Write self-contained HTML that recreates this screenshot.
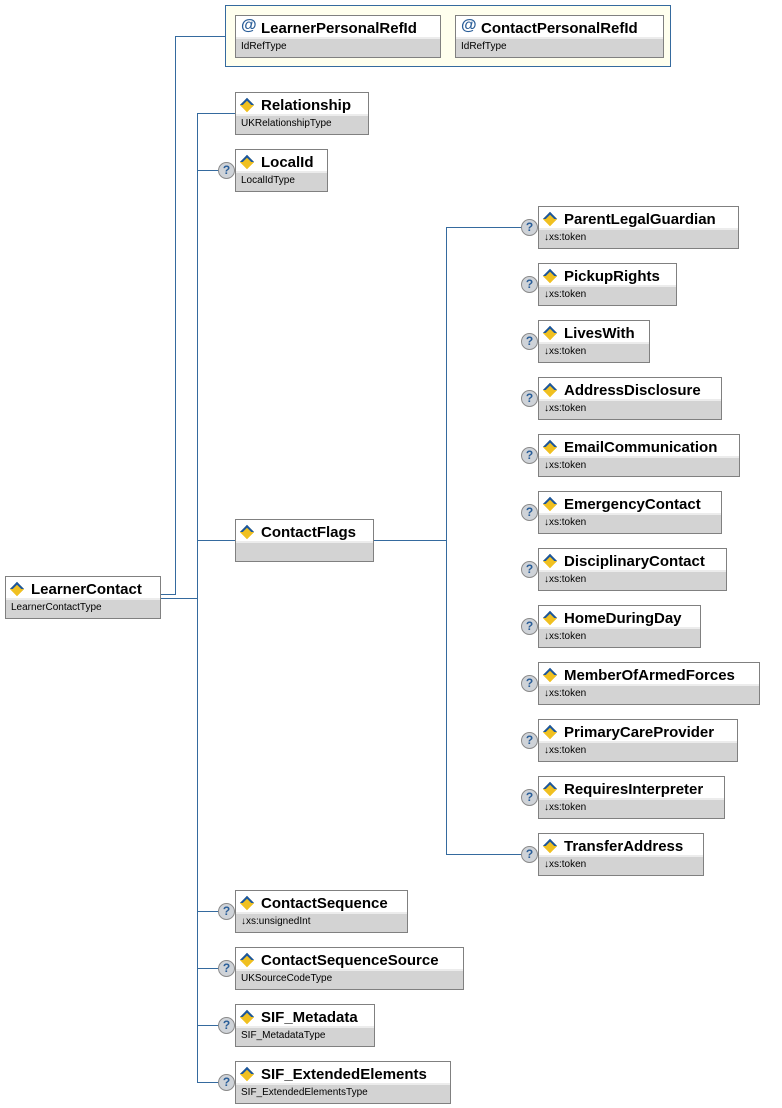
<!DOCTYPE html>
<html><head><meta charset="utf-8"><style>
body{margin:0;width:782px;height:1108px;background:#fff;position:relative;overflow:hidden;font-family:"Liberation Sans",sans-serif}
.b{position:absolute;border:1px solid #808080;background:#d3d3d3;box-sizing:border-box;height:43px}
.b .t{height:23px;background:#fff;border-bottom:2px solid #ececec;box-sizing:border-box;font-weight:bold;font-size:15px;line-height:20px;padding-top:3px;padding-left:25px;white-space:nowrap;position:relative;color:#000;overflow:hidden}
.b .s{font-size:10px;line-height:16px;padding-left:5px;white-space:nowrap;color:#000}
.ic{position:absolute;left:6px;top:7px;width:10px;height:10px;transform:rotate(45deg);background:#f0c020;border:2px solid #1a56a0;border-right-color:#f0c020;border-bottom-color:#f0c020;box-sizing:border-box}
.at{position:absolute;left:5px;top:0px;color:#2a5e98;font-size:16px;font-weight:bold}
.l{position:absolute;background:#356a9e}
.q{position:absolute;width:15px;height:15px;border-radius:50%;background:#cfd3d8;border:1px solid #8a8a8a;color:#2a5e98;font-size:12px;font-weight:bold;text-align:center;line-height:15px}
</style></head><body>
<div style="position:absolute;left:225px;top:5px;width:446px;height:62px;border:1px solid #356a9e;background:#ffffee;box-sizing:border-box"></div>
<div class="b" style="left:235px;top:15px;width:206px"><div class="t"><span class="at">@</span>LearnerPersonalRefId</div><div class="s">IdRefType</div></div>
<div class="b" style="left:455px;top:15px;width:209px"><div class="t"><span class="at">@</span>ContactPersonalRefId</div><div class="s">IdRefType</div></div>

<div class="l" style="left:160px;top:594px;width:16px;height:1px"></div>
<div class="l" style="left:175px;top:36px;width:1px;height:559px"></div>
<div class="l" style="left:175px;top:36px;width:50px;height:1px"></div>
<div class="l" style="left:160px;top:598px;width:37px;height:1px"></div>
<div class="l" style="left:197px;top:113px;width:1px;height:970px"></div>
<div class="l" style="left:197px;top:113px;width:38px;height:1px"></div>
<div class="l" style="left:197px;top:170px;width:22px;height:1px"></div>
<div class="l" style="left:197px;top:540px;width:38px;height:1px"></div>
<div class="l" style="left:197px;top:911px;width:22px;height:1px"></div>
<div class="l" style="left:197px;top:968px;width:22px;height:1px"></div>
<div class="l" style="left:197px;top:1025px;width:22px;height:1px"></div>
<div class="l" style="left:197px;top:1082px;width:22px;height:1px"></div>
<div class="l" style="left:373px;top:540px;width:73px;height:1px"></div>
<div class="l" style="left:446px;top:227px;width:1px;height:628px"></div>
<div class="l" style="left:446px;top:227px;width:76px;height:1px"></div>
<div class="l" style="left:446px;top:854px;width:76px;height:1px"></div>

<div class="b" style="left:5px;top:576px;width:156px"><div class="t"><span class="ic"></span>LearnerContact</div><div class="s">LearnerContactType</div></div>

<div class="b" style="left:235px;top:92px;width:134px"><div class="t"><span class="ic"></span>Relationship</div><div class="s">UKRelationshipType</div></div>
<div class="q" style="left:218px;top:162px">?</div>
<div class="b" style="left:235px;top:149px;width:93px"><div class="t"><span class="ic"></span>LocalId</div><div class="s">LocalIdType</div></div>
<div class="b" style="left:235px;top:519px;width:139px"><div class="t"><span class="ic"></span>ContactFlags</div><div class="s"></div></div>

<div class="q" style="left:218px;top:903px">?</div>
<div class="b" style="left:235px;top:890px;width:173px"><div class="t"><span class="ic"></span>ContactSequence</div><div class="s">↓xs:unsignedInt</div></div>
<div class="q" style="left:218px;top:960px">?</div>
<div class="b" style="left:235px;top:947px;width:229px"><div class="t"><span class="ic"></span>ContactSequenceSource</div><div class="s">UKSourceCodeType</div></div>
<div class="q" style="left:218px;top:1017px">?</div>
<div class="b" style="left:235px;top:1004px;width:140px"><div class="t"><span class="ic"></span>SIF_Metadata</div><div class="s">SIF_MetadataType</div></div>
<div class="q" style="left:218px;top:1074px">?</div>
<div class="b" style="left:235px;top:1061px;width:216px"><div class="t"><span class="ic"></span>SIF_ExtendedElements</div><div class="s">SIF_ExtendedElementsType</div></div>

<div class="q" style="left:521px;top:219px">?</div>
<div class="b" style="left:538px;top:206px;width:201px"><div class="t"><span class="ic"></span>ParentLegalGuardian</div><div class="s">↓xs:token</div></div>
<div class="q" style="left:521px;top:276px">?</div>
<div class="b" style="left:538px;top:263px;width:139px"><div class="t"><span class="ic"></span>PickupRights</div><div class="s">↓xs:token</div></div>
<div class="q" style="left:521px;top:333px">?</div>
<div class="b" style="left:538px;top:320px;width:112px"><div class="t"><span class="ic"></span>LivesWith</div><div class="s">↓xs:token</div></div>
<div class="q" style="left:521px;top:390px">?</div>
<div class="b" style="left:538px;top:377px;width:184px"><div class="t"><span class="ic"></span>AddressDisclosure</div><div class="s">↓xs:token</div></div>
<div class="q" style="left:521px;top:447px">?</div>
<div class="b" style="left:538px;top:434px;width:202px"><div class="t"><span class="ic"></span>EmailCommunication</div><div class="s">↓xs:token</div></div>
<div class="q" style="left:521px;top:504px">?</div>
<div class="b" style="left:538px;top:491px;width:184px"><div class="t"><span class="ic"></span>EmergencyContact</div><div class="s">↓xs:token</div></div>
<div class="q" style="left:521px;top:561px">?</div>
<div class="b" style="left:538px;top:548px;width:189px"><div class="t"><span class="ic"></span>DisciplinaryContact</div><div class="s">↓xs:token</div></div>
<div class="q" style="left:521px;top:618px">?</div>
<div class="b" style="left:538px;top:605px;width:163px"><div class="t"><span class="ic"></span>HomeDuringDay</div><div class="s">↓xs:token</div></div>
<div class="q" style="left:521px;top:675px">?</div>
<div class="b" style="left:538px;top:662px;width:222px"><div class="t"><span class="ic"></span>MemberOfArmedForces</div><div class="s">↓xs:token</div></div>
<div class="q" style="left:521px;top:732px">?</div>
<div class="b" style="left:538px;top:719px;width:200px"><div class="t"><span class="ic"></span>PrimaryCareProvider</div><div class="s">↓xs:token</div></div>
<div class="q" style="left:521px;top:789px">?</div>
<div class="b" style="left:538px;top:776px;width:187px"><div class="t"><span class="ic"></span>RequiresInterpreter</div><div class="s">↓xs:token</div></div>
<div class="q" style="left:521px;top:846px">?</div>
<div class="b" style="left:538px;top:833px;width:166px"><div class="t"><span class="ic"></span>TransferAddress</div><div class="s">↓xs:token</div></div>
</body></html>
